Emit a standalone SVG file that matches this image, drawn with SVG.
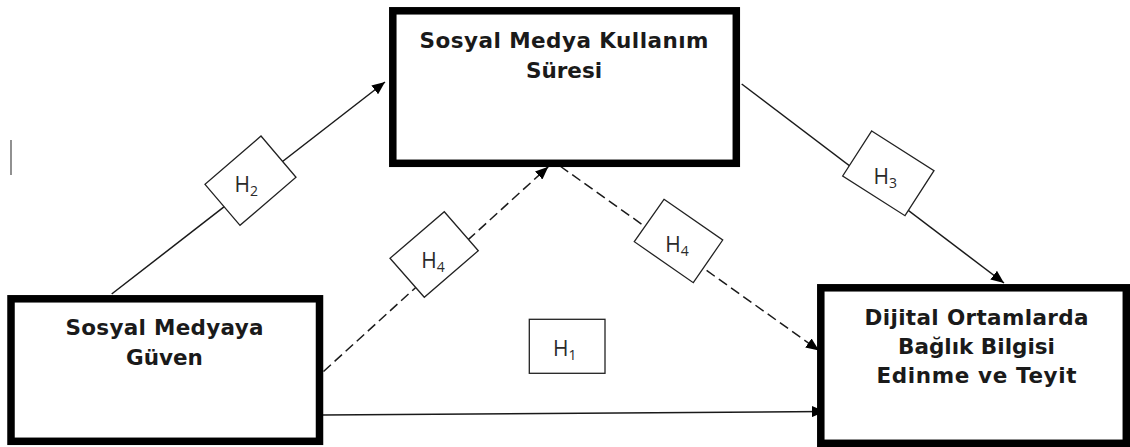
<svg xmlns="http://www.w3.org/2000/svg" width="1130" height="447" viewBox="0 0 1130 447">
<style>
  .node rect { fill: #fff; stroke: #000; stroke-width: 7.5; }
  .nt { font-family: "DejaVu Sans", "Open Sans", sans-serif; font-weight: bold; font-size: 21.5px; fill: #1a1a1a; text-anchor: middle; }
  .conn { stroke: #1a1a1a; stroke-width: 1.5; fill: none; }
  .dash { stroke-dasharray: 10 5; }
  .lbl { fill: #fff; stroke: #222; stroke-width: 1.3; }
  .lt { font-family: "Open Sans", "Noto Sans", sans-serif; font-size: 21px; fill: #2a2a2a; text-anchor: middle; }
  .sub { font-size: 14px; }
</style>
<defs>
  <marker id="arr" markerUnits="userSpaceOnUse" markerWidth="13" markerHeight="11" refX="13" refY="5.5" orient="auto">
    <path d="M0,0 L13,5.5 L0,11 z" fill="#000"/>
  </marker>
</defs>
<rect width="1130" height="447" fill="#fff"/>
<line x1="11" y1="140" x2="11" y2="175" stroke="#555" stroke-width="1.3"/>

<g id="connectors">
  <line class="conn" x1="111.7" y1="294" x2="385" y2="82" marker-end="url(#arr)"/>
  <line class="conn dash" x1="323.5" y1="371.5" x2="548.3" y2="166.7" marker-end="url(#arr)"/>
  <line class="conn dash" x1="560" y1="166" x2="819" y2="350.5" marker-end="url(#arr)"/>
  <line class="conn" x1="741.7" y1="84" x2="1004" y2="283" marker-end="url(#arr)"/>
  <line class="conn" x1="323" y1="415" x2="825" y2="411.5" marker-end="url(#arr)"/>
</g>

<g id="labels">
  <g id="label-h2">
    <polygon class="lbl" points="261,136 296,177.3 240,225.3 205,184.3"/>
    <text class="lt" x="246.3" y="192">H<tspan class="sub" dy="4">2</tspan></text>
  </g>
  <g id="label-h4a">
    <polygon class="lbl" points="444.3,211.7 478.3,250.7 424.3,297.3 390,258.3"/>
    <text class="lt" x="433" y="267.8">H<tspan class="sub" dy="4">4</tspan></text>
  </g>
  <g id="label-h4b">
    <polygon class="lbl" points="664,199.3 722.7,240 693.3,282.7 634.3,241.7"/>
    <text class="lt" x="677" y="252.2">H<tspan class="sub" dy="4">4</tspan></text>
  </g>
  <g id="label-h3">
    <polygon class="lbl" points="871.7,131 934,170.7 905,215.7 842.7,176"/>
    <text class="lt" x="885.3" y="183.8">H<tspan class="sub" dy="4">3</tspan></text>
  </g>
  <g id="label-h1">
    <rect class="lbl" x="529.3" y="319.3" width="75.7" height="54"/>
    <text class="lt" x="564.7" y="355.5">H<tspan class="sub" dy="4">1</tspan></text>
  </g>
</g>

<g id="node-sure" class="node">
  <rect x="392.8" y="10.8" width="343.5" height="152.5"/>
  <text class="nt" x="564" y="48" textLength="289" lengthAdjust="spacing">Sosyal Medya Kullanım</text>
  <text class="nt" x="564" y="77.5">Süresi</text>
</g>

<g id="node-guven" class="node">
  <rect x="11" y="298.8" width="308.5" height="142.5"/>
  <text class="nt" x="164.5" y="335" textLength="198" lengthAdjust="spacing">Sosyal Medyaya</text>
  <text class="nt" x="164.5" y="365">Güven</text>
</g>

<g id="node-saglik" class="node">
  <rect x="820.8" y="287.8" width="305.5" height="155.5"/>
  <text class="nt" x="976.5" y="325" textLength="224" lengthAdjust="spacing">Dijital Ortamlarda</text>
  <text class="nt" x="976.5" y="354">Bağlık Bilgisi</text>
  <text class="nt" x="976.5" y="383" textLength="200" lengthAdjust="spacing">Edinme ve Teyit</text>
</g>
</svg>
